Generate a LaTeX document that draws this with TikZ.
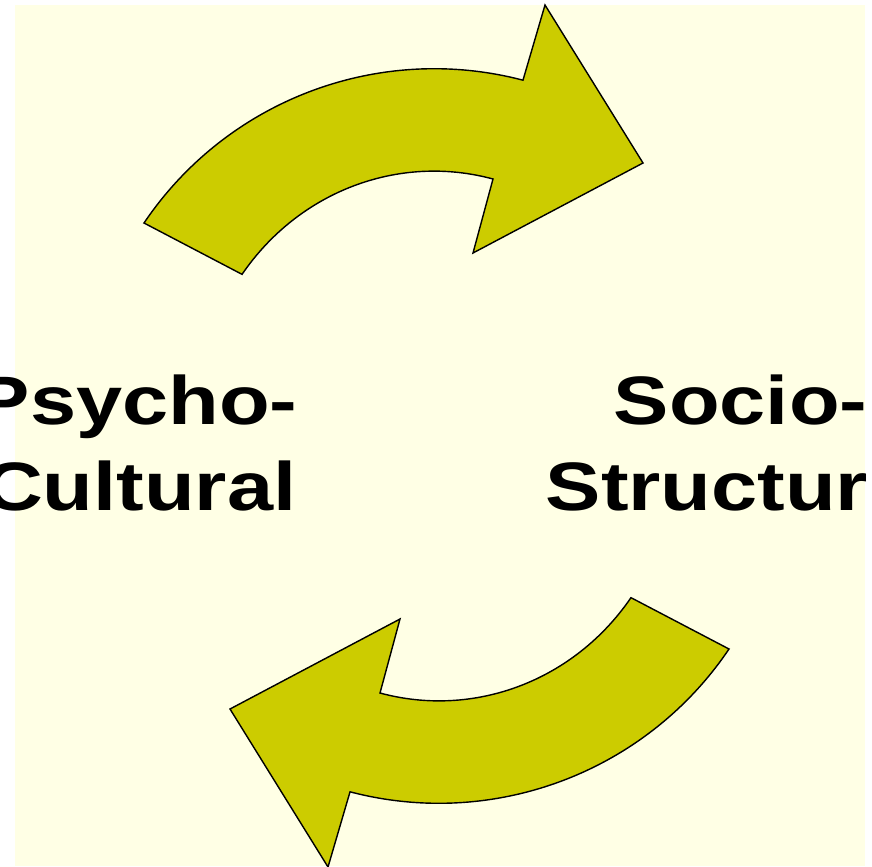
\documentclass[tikz,border=0pt]{standalone}
\usepackage{fontspec}
\newfontfamily\labelfont{Liberation Sans}[FakeStretch=1.21]

\definecolor{slidebg}{RGB}{255,255,229}
\definecolor{arrowfill}{RGB}{204,204,0}

\begin{document}
\begin{tikzpicture}[scale = 1]
    \useasboundingbox (0,0) rectangle (8.72,-8.66);
    \clip (0,0) rectangle (8.72,-8.66);
    \fill [color=slidebg] (0.15,-0.05) rectangle (8.65,-8.66);
    % upper arrow, left to right
    \draw [fill=arrowfill] (1.44,-2.23) arc[start angle=146, end angle=75.3, radius=3.5]
        -- (5.45,-0.05) -- (6.43,-1.63) -- (4.73,-2.53) -- (4.93,-1.79)
        arc[start angle=75.5, end angle=144.4, x radius=2.36, y radius=2.47] -- cycle;
    % lower arrow, the same turned half round
    \begin{scope}[rotate around={180:(4.365,-4.36)}]
        \draw [fill=arrowfill] (1.44,-2.23) arc[start angle=146, end angle=75.3, radius=3.5]
            -- (5.45,-0.05) -- (6.43,-1.63) -- (4.73,-2.53) -- (4.93,-1.79)
            arc[start angle=75.5, end angle=144.4, x radius=2.36, y radius=2.47] -- cycle;
    \end{scope}
    \begin{scope}[every node/.style={inner sep=0pt, font=\labelfont\bfseries\fontsize{19.5}{24.75}\selectfont}]
        \node [anchor=base east] (psycho) at (2.98,-4.24) {Psycho-};
        \node [anchor=base east] (cultural) at (2.97,-5.10) {Cultural};
        \node [anchor=base east] (socio) at (8.68,-4.24) {Socio-};
        \node [anchor=base west] (structur) at (5.45,-5.10) {Structur};
    \end{scope}
\end{tikzpicture}
\end{document}
